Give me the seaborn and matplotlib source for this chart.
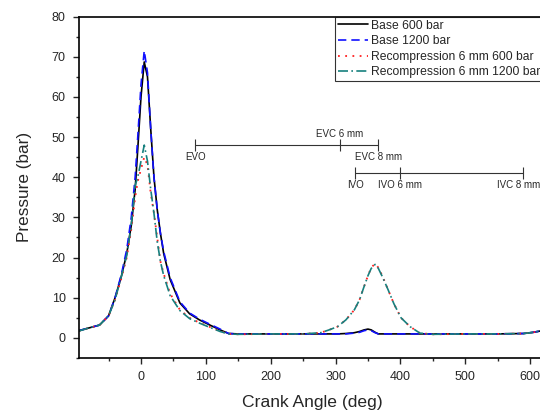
import matplotlib
matplotlib.use("Agg")
import matplotlib.pyplot as plt
import seaborn as sns
import pandas as pd
import numpy as np

angle = [-96, -80, -64, -50, -40, -30, -22, -15, -9, -5, 0, 5, 10, 15, 20, 25, 30, 35,
         45, 60, 75, 90, 105, 122, 135, 150, 200, 250, 277, 290, 303, 316, 329, 337,
         344, 350, 355, 361, 366, 372, 381, 390, 401, 415, 430, 450, 500, 550, 590, 605, 618]

base_600 = [1.8, 2.5, 3.2, 5.5, 10, 15.5, 21, 28, 37, 47, 60, 68.7, 65, 52, 40, 32, 26, 21,
            14.5, 8.7, 6.0, 4.5, 3.3, 2.0, 1.1, 1.0, 1.0, 1.0, 1.0, 1.0, 1.0, 1.1, 1.3, 1.6,
            2.0, 2.2, 2.0, 1.4, 1.0, 1.0, 1.0, 1.0, 1.0, 1.0, 1.0, 1.0, 1.0, 1.0, 1.1, 1.4, 1.8]

base_1200 = [1.8, 2.5, 3.2, 5.5, 10, 16, 22, 30, 40, 50, 63, 71.5, 66, 52, 40, 32, 26, 21.5,
             15, 9.0, 6.2, 4.7, 3.5, 2.2, 1.1, 1.0, 1.0, 1.0, 1.0, 1.0, 1.0, 1.0, 1.2, 1.4,
             1.8, 2.0, 1.8, 1.3, 1.0, 1.0, 1.0, 1.0, 1.0, 1.0, 1.0, 1.0, 1.0, 1.0, 1.1, 1.4, 1.8]

recomp_600 = [1.7, 2.5, 3.2, 5.5, 9.5, 15, 20, 27, 35, 39, 42, 45, 43, 36, 31, 25, 19, 16,
              11, 7.0, 5.0, 3.8, 2.8, 1.7, 1.0, 0.9, 1.0, 1.0, 1.3, 2.0, 2.8, 4.5, 7.0, 9.5,
              12.8, 15.5, 17.5, 18.5, 17.5, 15.5, 12, 8.5, 5.0, 2.8, 1.2, 0.9, 1.0, 1.0, 1.1, 1.4, 1.8]

recomp_1200 = [1.7, 2.5, 3.2, 5.5, 9.5, 15.5, 20.5, 28, 38, 40, 44, 48, 44, 37, 31, 24, 19, 15.5,
               10.5, 6.8, 4.8, 3.7, 2.7, 1.6, 1.0, 0.9, 1.0, 1.0, 1.3, 2.0, 2.8, 4.5, 7.0, 9.5,
               12.8, 15.5, 17.3, 18.3, 17.3, 15.3, 12, 8.5, 5.0, 2.8, 1.2, 0.9, 1.0, 1.0, 1.1, 1.4, 1.8]

series_labels = ["Base 600 bar", "Base 1200 bar", "Recompression 6 mm 600 bar",
                 "Recompression 6 mm 1200 bar"]

# valve event markers (crank angle, bar level)
exhaust_events = [84, 307, 366]
exhaust_labels = ["EVO", "EVC 6 mm", "EVC 8 mm"]
exhaust_level = 48.1
intake_events = [330, 400, 589]
intake_labels = ["IVO", "IVO 6 mm", "IVC 8 mm"]
intake_level = 41.1

sns.set_theme(style="ticks")
plt.rcParams['font.family'] = ['Liberation Sans', 'DejaVu Sans']

fig = plt.figure(figsize=(5.4, 4.15), dpi=100)
ax = fig.add_axes([0.1463, 0.1373, 0.863, 0.8229])

styles = [
    dict(color="black", linestyle="-", linewidth=1.2),
    dict(color="#1010ff", linestyle=(0, (5, 3)), linewidth=1.2),
    dict(color="#ff2020", linestyle=(0, (1, 3)), linewidth=1.3),
    dict(color="#17807e", linestyle=(0, (6, 2, 1, 2)), linewidth=1.2),
]
for vals, lab, st in zip([base_600, base_1200, recomp_600, recomp_1200], series_labels, styles):
    df = pd.DataFrame({"angle": angle, "p": vals})
    sns.lineplot(data=df, x="angle", y="p", ax=ax, label=lab, **st)

# valve event bars
def event_bar(xs, level):
    ax.plot([min(xs), max(xs)], [level, level], color="#333333", linewidth=0.8)
    ax.plot(xs, [level] * len(xs), linestyle="none", marker="|", markersize=8,
            color="#333333", markeredgewidth=0.8)

event_bar(exhaust_events, exhaust_level)
event_bar(intake_events, intake_level)
fs = 7

def label(xv, yv, txt, dx, dy, va):
    ax.annotate(txt, (xv, yv), xytext=(dx, dy), textcoords="offset points",
                ha="center", va=va, fontsize=fs)

label(exhaust_events[0], exhaust_level, exhaust_labels[0], 0, -5, "top")
label(exhaust_events[1], exhaust_level, exhaust_labels[1], 0, 4, "bottom")
label(exhaust_events[2], exhaust_level, exhaust_labels[2], 0, -5, "top")
label(intake_events[0], intake_level, intake_labels[0], 0, -5, "top")
label(intake_events[1], intake_level, intake_labels[1], 0, -5, "top")
label(intake_events[2], intake_level, intake_labels[2], -3, -5, "top")

ax.set_xlim(-95.6, 623)
ax.set_ylim(-5, 80)
ax.set_xticks(range(0, 601, 100))
ax.set_xticks(range(-50, 601, 100), minor=True)
ax.set_yticks(range(0, 81, 10))
ax.set_yticks(range(-5, 80, 10), minor=True)
ax.tick_params(which="major", direction="out", length=4.5, width=1.0, labelsize=9)
ax.tick_params(axis="x", which="major", pad=5)
ax.tick_params(axis="y", which="major", pad=5)
ax.tick_params(which="minor", direction="out", length=2.5, width=1.0)
for s in ax.spines.values():
    s.set_linewidth(1.2)
    s.set_color("black")
ax.set_xlabel("Crank Angle (deg)", fontsize=12.6, labelpad=8.5)
ax.set_ylabel("Pressure (bar)", fontsize=12.3, labelpad=14)

leg = ax.legend(loc="upper left", bbox_to_anchor=(335 / 540, 0.9602),
                bbox_transform=fig.transFigure, fontsize=8.7, frameon=True,
                handlelength=2.5, handletextpad=0.2, borderpad=0.25, labelspacing=0.3,
                fancybox=False, borderaxespad=0)
leg.get_frame().set_edgecolor("black")
leg.get_frame().set_linewidth(0.8)

fig.savefig("out.png", dpi=100)
